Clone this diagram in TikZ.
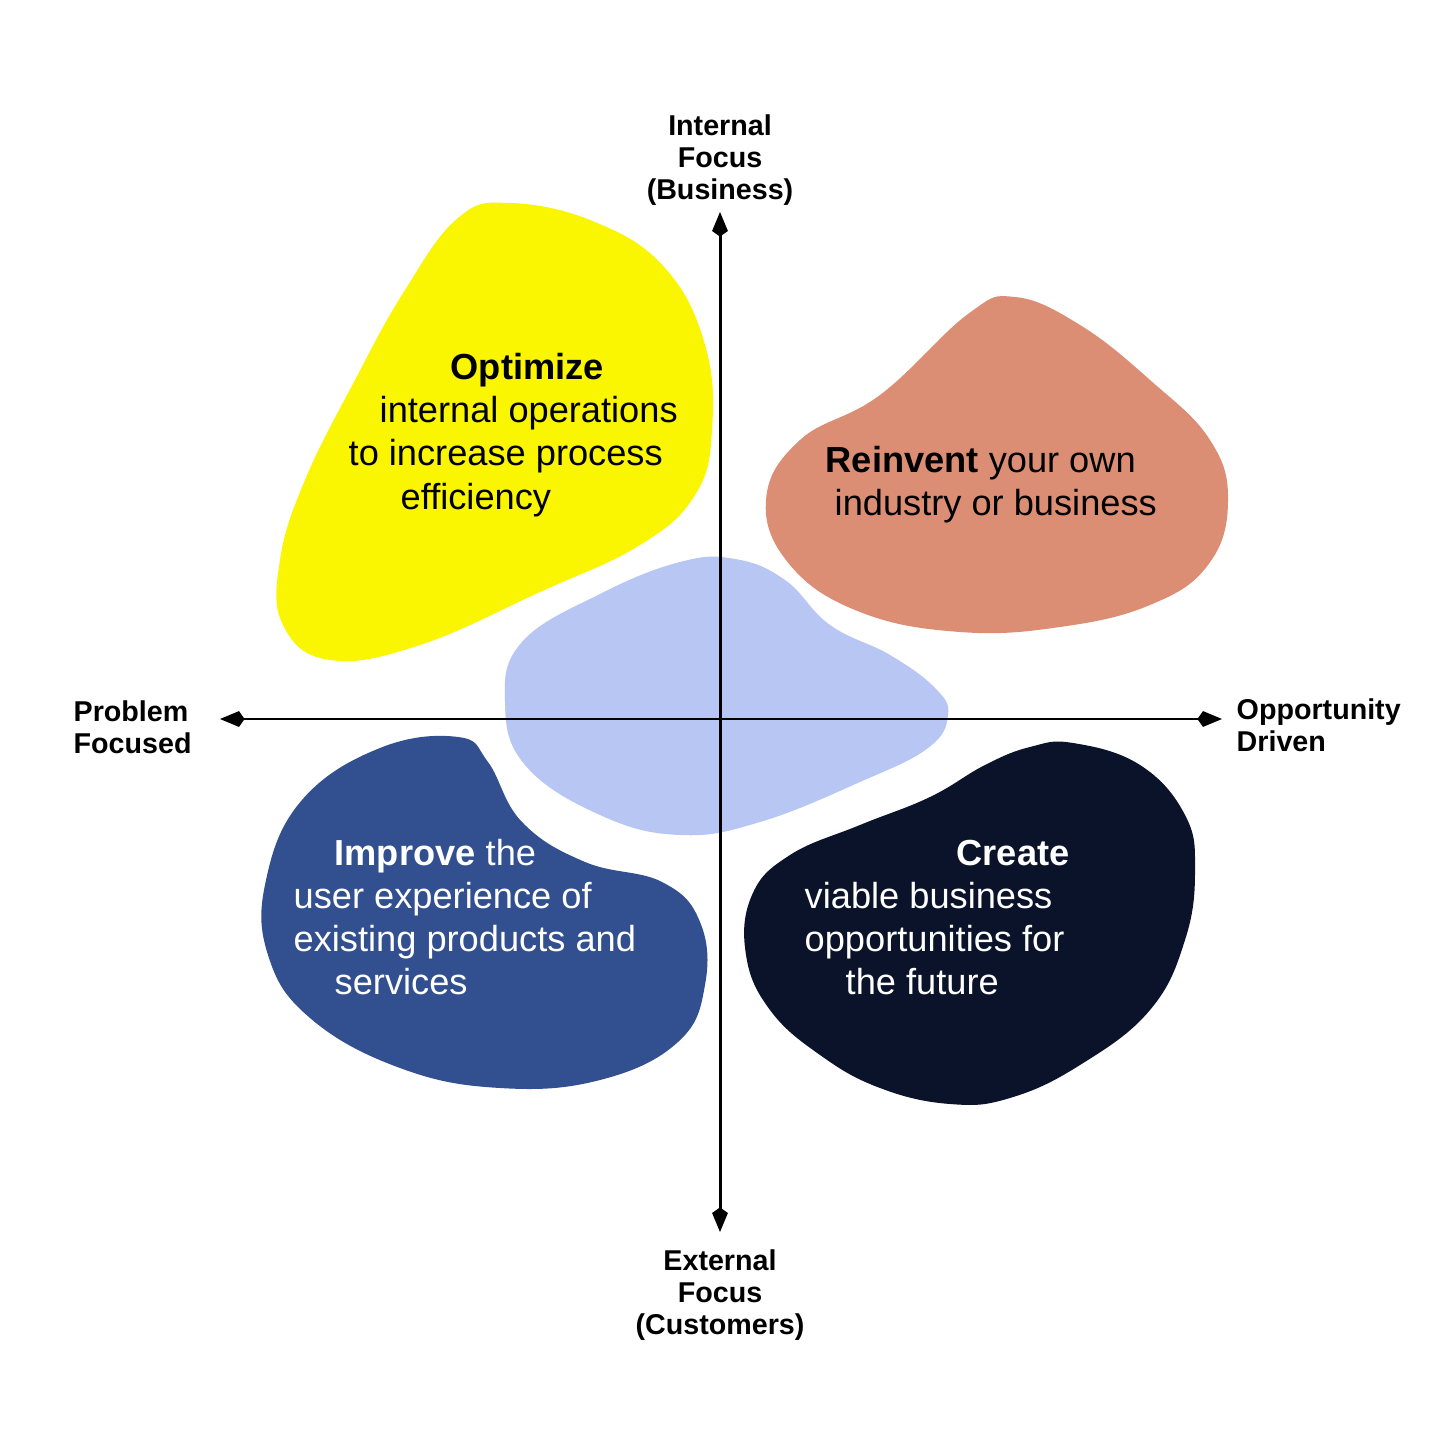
\documentclass[tikz,border=0pt]{standalone}
\usepackage{fontspec}
\setmainfont{Liberation Sans}
\usepackage{tikz}
\usetikzlibrary{arrows.meta}
\definecolor{optyellow}{RGB}{250,245,0}
\definecolor{reinsalmon}{RGB}{219,142,116}
\definecolor{midblue}{RGB}{183,198,242}
\definecolor{impblue}{RGB}{50,79,143}
\definecolor{crenavy}{RGB}{10,19,41}
\tikzset{axis/.style = {<->,>={Kite[length=7pt,width=4.5pt,inset=1.6pt]},line width=0.85pt}}

\begin{document}
\begin{tikzpicture}[x=0.01cm,y=-0.01cm,blob/.style={smooth cycle,tension=0.7},
    axis label/.style={font=\bfseries\fontsize{8.15}{9}\selectfont,inner sep=0pt},
    line text/.style={anchor=base west,inner sep=0pt,font=\fontsize{10.3}{12.5}\selectfont}]
            \useasboundingbox[fill=white] (0,0) rectangle (1440,1440);
            % blobs
            \fill[optyellow] plot[blob] coordinates {(510,203) (595,222) (665,268) (705,345) (712,430) (695,495) (640,545) (540,592) (420,645) (330,660) (283,625) (280,560) (305,480) (355,380) (405,290) (458,218)};
            \fill[reinsalmon] plot[blob] coordinates {(1015,297) (1080,325) (1150,380) (1210,440) (1228,502) (1208,565) (1150,605) (1060,627) (960,632) (860,612) (790,565) (766,500) (800,440) (880,395) (968,314)};
            \fill[midblue] plot[blob] coordinates {(735,559) (785,580) (830,625) (890,655) (935,688) (948,715) (928,748) (860,782) (760,822) (680,835) (600,815) (525,765) (505,702) (522,642) (600,594) (680,562)};
            \fill[impblue] plot[blob] coordinates {(458,737) (488,762) (522,822) (585,862) (662,882) (700,922) (705,985) (678,1042) (600,1080) (500,1088) (400,1068) (310,1018) (268,955) (266,880) (302,800) (380,748)};
            \fill[crenavy] plot[blob] coordinates {(1073,743) (1140,765) (1185,815) (1195,870) (1185,940) (1150,1010) (1080,1065) (1010,1098) (950,1104) (880,1088) (820,1055) (770,1010) (746,955) (752,895) (790,855) (860,825) (930,797) (985,765) (1030,747)};
            % axes
            \coordinate (top) at (720,212);
            \coordinate (bottom) at (720,1232);
            \coordinate (left) at (220,719);
            \coordinate (right) at (1222,719);
            \draw[axis] (top) -- (bottom);
            \draw[axis] (left) -- (right);
            \node[axis label,align=center] (internal) at (720,160) {Internal\\Focus\\(Business)};
            \node[axis label,align=center] (external) at (720,1295) {External\\Focus\\(Customers)};
            \node[axis label,align=left,anchor=west] (problem) at (73,727) {Problem\\Focused};
            \node[axis label,align=left,anchor=west] (opportunity) at (1236,725) {Opportunity\\Driven};
            % quadrant texts
            \node[line text] (opt1) at (450,380) {\bfseries Optimize};
            \node[line text] (opt2) at (379,423) {internal operations};
            \node[line text] (opt3) at (348,466) {to increase process};
            \node[line text] (opt4) at (400,509) {efficiency};
            \node[line text] (rei1) at (825,472) {\bfseries Reinvent \mdseries your own};
            \node[line text] (rei2) at (834,515) {industry or business};
            \node[line text,white] (imp1) at (334,865) {\bfseries Improve \mdseries the};
            \node[line text,white] (imp2) at (293,908) {user experience of};
            \node[line text,white] (imp3) at (293,951) {existing products and};
            \node[line text,white] (imp4) at (334,994) {services};
            \node[line text,white] (cre1) at (956,865) {\bfseries Create};
            \node[line text,white] (cre2) at (804,908) {viable business};
            \node[line text,white] (cre3) at (804,951) {opportunities for};
            \node[line text,white] (cre4) at (845,994) {the future};
        \end{tikzpicture}
\end{document}
